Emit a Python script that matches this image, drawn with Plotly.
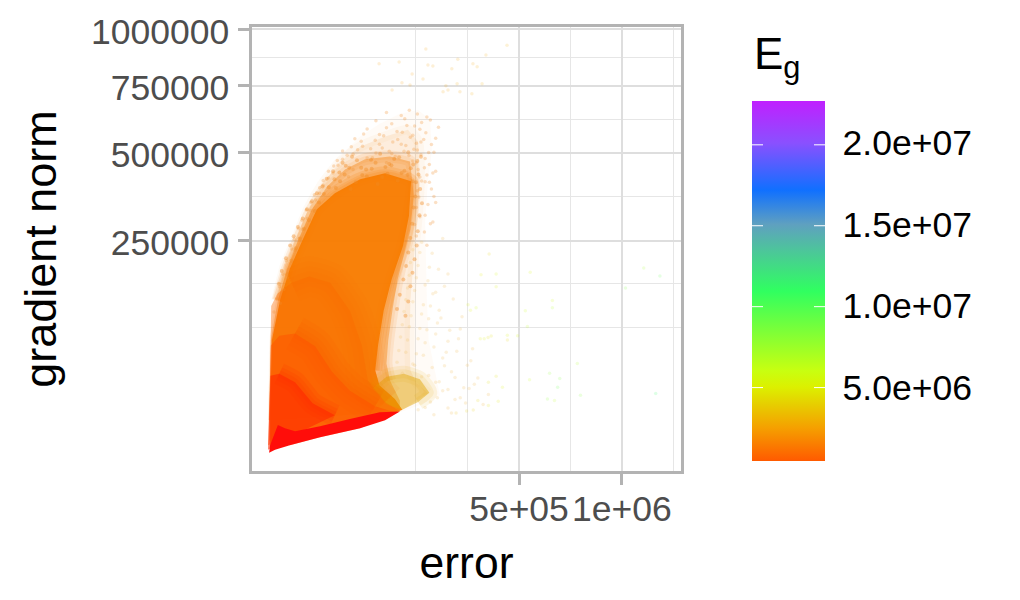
import numpy as np
import plotly.graph_objects as go

x_major = [500000, 1000000]
x_major_labels = ["5e+05", "1e+06"]
y_major = [250000, 500000, 750000, 1000000]
y_major_labels = ["250000", "500000", "750000", "1000000"]
x_minor_sqrt = [414, 560, 853.5, 1146.5]
y_minor_sqrt = [294, 397.6, 603.5, 786.5, 933]
eg_ticks = [5e6, 1e7, 1.5e7, 2e7]
eg_labels = ["5.0e+06", "1.0e+07", "1.5e+07", "2.0e+07"]

# Density envelopes of the point cloud (sqrt error, sqrt gradient norm)
fringe_x = [-7,-4,10,36,61,92,127,164,212,255,311,368,420,454,459,448,440,442,445,450,470,482,425,368]
fringe_y = [75,264,346,433,499,565,616,664,711,746,776,800,809,786,711,640,546,452,358,264,181,134,111,94]
mid_x = [-7,-1,16,41,73,107,147,198,255,326,391,420,425,420,412,405,398,396,398,414,448,397,368]
mid_y = [75,275,358,440,504,574,633,687,722,746,762,734,652,569,499,428,358,264,193,165,139,111,96]
core_x = [-4,1,21,47,78,118,161,212,269,340,397,408,398,380,362,348,335,330,340,368,368]
core_y = [75,264,358,433,499,574,628,668,692,699,687,605,527,471,409,341,264,209,169,122,96]
solid_x = [-1,4,27,55,90,132,183,255,326,400,394,377,345,322,306,298,310,354,375,300,141,55,-1]
solid_y = [99,264,358,433,499,574,612,645,659,640,558,487,409,334,252,193,158,125,100,75,40,20,5]
yellow_x = [290,330,380,425,452,420,375,330]
yellow_y = [150,178,185,172,140,118,100,112]
warm_x = [-4,2,20,60,110,170,226,260,277,326,368,255,141,55]
warm_y = [28,345,375,400,415,400,334,252,169,118,96,56,35,16]
hot_x = [-7,1,25,70,127,175,226,297,354,226,84]
hot_y = [16,252,275,280,250,190,145,108,94,75,49]
hotter_x = [-7,0,25,70,120,183,84]
hotter_y = [5,180,185,165,115,87,47]
red_x = [-4,13,55,141,255,326,368,311,226,141,70,41,21,-1]
red_y = [-2,5,16,35,56,75,96,94,78,61,49,56,64,16]

# Denser speckle along the soft upper edge of the solid cloud
inner_x = [205,232,258,286,312,338,366,392,418,178,214,246,272,299,327,352,381,406,428,160,196,224,261,288,318,344,373,399,421,
           148,182,211,243,274,305,333,362,390,414,132,166,198,228,404,426,118,152,186,412,431,104,138,407,424,92,126,403,419,
           78,110,398,416,66,95,392,410,56,84,386,404,44,72,378,398,32,60,368,392,24,48,360,384]
inner_y = [684,698,672,691,705,681,697,709,688,664,677,690,668,684,674,693,665,680,698,646,661,672,655,670,650,678,660,671,656,
           628,645,656,638,652,634,658,642,655,638,612,626,640,622,640,622,593,610,624,604,588,574,590,578,560,552,570,540,522,
           532,548,506,488,510,528,472,456,488,505,440,424,458,482,408,392,428,452,372,356,398,420,338,322]
# Faint individually visible points around the top and left of the cloud
fuzz_top_x = [330,372,395,418,445,300,345,382,410,430,455,478,275,310,330,360,388,405,425,442,470,240,265,298,322,348,375,398,415,436,458,
              230,258,285,310,338,362,385,408,428,450,205,235,262,290,318,345,372,394,418,440,465,190,218,248,275,300,330,355,380,405,428,452,
              180,205,235,415,438,462,165,192,222,420,445,150,178,425,452,470,140,165,430,458,125,150,418,440,465,115,140,422,448,
              102,128,415,440,470,90,115,425,455,80,105,410,438,462,68,92,415,445,60,82,45,70,35,58,26,48,18,38,10,28]
fuzz_top_y = [803,796,808,799,792,783,776,788,771,779,785,768,764,751,767,758,772,749,763,755,742,741,752,737,748,733,756,744,730,739,727,
              722,735,717,728,711,739,725,716,733,708,712,704,723,696,719,706,728,701,714,694,709,689,702,715,695,707,684,699,711,688,703,680,
              676,692,668,684,672,660,664,678,651,668,655,642,660,650,638,664,625,648,641,622,608,631,618,639,604,590,612,603,585,
              572,596,578,560,590,548,571,556,540,528,552,538,520,544,503,526,511,489,480,505,452,477,420,446,391,412,362,384,331,352]
# Pale points right of the cloud
fuzz_right_x = [405,430,460,490,398,425,452,395,420,448,478,390,415,440,470,505,385,410,435,462,495,380,405,430,455,485,520,
                375,400,425,450,480,510,545,370,395,420,445,475,505,540,365,390,415,440,470,500,535,575,360,385,410,435,465,495,530,570,
                375,405,430,460,490,525,560,420,450,480,515,550,590,440,470,505,540,580,620,455,490,525,565,605,440,475,515,555,420,465,505]
fuzz_right_y = [478,496,470,505,448,472,437,418,441,405,432,388,412,395,378,421,360,382,348,374,392,332,355,326,345,317,362,
                301,322,292,315,335,288,320,272,296,268,289,305,262,291,240,265,232,258,279,236,268,244,212,236,205,229,248,204,238,216,
                186,208,178,200,222,176,205,158,181,166,190,152,175,142,165,148,128,160,136,118,145,124,150,112,105,128,92,116,100,88,104,82]

# Individually visible far points, coloured through the Eg scale
speck_x = [442,366,309,673,613,576,588,533,448,462,516,403,434,602,531,499,397,374,346,505,539,573,491,
           1108,1062,1010,1096,882,873,823,817,794,808,788,737,739,802,802,725,731,674,703,619,
           642,599,622,642,569,585,562,597,628,608,674,642,620,660,648,620,590,577,558,528]
speck_y = [953,922,918,962,939,918,911,929,915,913,906,894,882,871,871,866,868,873,856,856,852,847,852,
           416,435,388,138,134,209,174,153,186,122,125,171,425,341,358,334,297,276,275,271,
           421,419,468,391,335,341,348,268,274,268,265,179,165,153,120,110,122,99,97,92]
speck_eg = [2.4,2.6,2.3,2.9,2.8,2.5,2.7,2.6,2.4,2.5,2.6,2.3,2.5,2.9,2.7,2.6,2.4,2.3,2.3,2.5,2.6,2.8,2.6,
            9.5,7.2,8.6,11,8.2,6.8,8.4,9.2,7.9,6.5,8.0,6.1,5.4,6.9,5.6,5.9,6.4,5.2,5.5,4.6,
            5.4,4.9,4.2,5.2,5.0,5.8,5.2,4.8,4.5,5.2,4.2,4.4,4.6,5.1,4.7,4.4,4.1,3.8,3.9,3.4]

# Eg colour scale
eg_min, eg_max = 4.6e5, 2.258e7
scale_eg = [4.6e5, 2.5e6, 5e6, 6e6, 1.09e7, 1.5e7, 1.71e7, 2e7, 2.258e7]
scale_colors = ["#ff5a00", "#f5a000", "#dcf000", "#c8ff10", "#30ff60", "#5fa0c0", "#1070ff", "#8a50ff", "#c020ff"]

W, H = 1020, 600
PL, PR, PT, PB = 252, 681, 24.5, 471
fig = go.Figure()

# (x, y, rgb, fill alpha, halo widths, halo alpha, feathered vertex range)
layers = [
    (fringe_x, fringe_y, "246,170,90", 0.05, [], 0, (2, 22)),
    (mid_x, mid_y, "243,150,50", 0.13, [10], 0.05, (2, 21)),
    (core_x, core_y, "246,125,5", 0.40, [12, 6], 0.10, (2, 19)),
    (solid_x, solid_y, "247,124,0", 0.92, [14, 8, 4], 0.16, (2, 16)),
    (yellow_x, yellow_y, "224,165,0", 0.45, [16, 9], 0.10, (0, 6)),
    (warm_x, warm_y, "250,106,0", 0.40, [40, 30, 20, 10], 0.06, (3, 10)),
    (hot_x, hot_y, "254,78,0", 0.45, [36, 26, 16, 8], 0.08, (3, 8)),
    (hotter_x, hotter_y, "255,40,0", 0.60, [22, 14, 7], 0.12, (2, 6)),
    (red_x, red_y, "255,13,10", 1.0, [], 0, (0, 0)),
]
for lx, ly, rgb, alpha, halos, ha, (i0, i1) in layers:
    for w in halos:
        fig.add_trace(go.Scatter(x=lx[i0:i1], y=ly[i0:i1], mode="lines", hoverinfo="skip", showlegend=False,
                                 line=dict(width=w, color=f"rgba({rgb},{ha})", shape="spline", smoothing=0.6)))
    fig.add_trace(go.Scatter(x=lx, y=ly, mode="lines", fill="toself", fillcolor=f"rgba({rgb},{alpha})",
                             line=dict(width=0, shape="linear"), hoverinfo="skip", showlegend=False))

fig.add_trace(go.Scatter(x=inner_x, y=inner_y, mode="markers", showlegend=False, hoverinfo="skip",
                         marker=dict(size=4, color="#ef8a20", opacity=0.4, line=dict(width=0))))
fig.add_trace(go.Scatter(x=fuzz_top_x, y=fuzz_top_y, mode="markers", showlegend=False, hoverinfo="skip",
                         marker=dict(size=3.5, color="#f09030", opacity=0.28, line=dict(width=0))))
fig.add_trace(go.Scatter(x=fuzz_right_x, y=fuzz_right_y, mode="markers", showlegend=False, hoverinfo="skip",
                         marker=dict(size=3.5, color="#f0c060", opacity=0.22, line=dict(width=0))))
fig.add_trace(go.Scatter(
    x=speck_x, y=speck_y, mode="markers", showlegend=False,
    marker=dict(size=3.5, opacity=0.16, color=[e * 1e6 for e in speck_eg], coloraxis="coloraxis", line=dict(width=0)),
))

cs = [[(v - eg_min) / (eg_max - eg_min), c] for v, c in zip(scale_eg, scale_colors)]

PW, PH = PR - PL, PB - PT
anns = []
for v in eg_ticks:
    yp = 461 - (v - eg_min) / (eg_max - eg_min) * 360
    for xp, ax in ((752, 14), (825, -14)):
        anns.append(dict(xref="paper", yref="paper", x=(xp - PL) / PW, y=(PB - yp) / PH,
                         text=" ", showarrow=True, arrowhead=0, arrowwidth=1, arrowcolor="white",
                         ax=ax, ay=0, standoff=0, startstandoff=0))
anns.append(dict(xref="paper", yref="paper", x=(753 - PL) / PW, y=(PB - 84) / PH, xanchor="left", yanchor="bottom",
                 text="E<sub>g</sub>", showarrow=False, xshift=0, borderpad=0,
                 font=dict(family="Liberation Sans", size=44, color="black")))

axis_common = dict(showline=True, mirror=True, linecolor="#b3b3b3", linewidth=2.5,
                   ticks="outside", ticklen=11, tickwidth=2.5, tickcolor="#b3b3b3",
                   gridcolor="#dedede", gridwidth=2, zeroline=False,
                   tickfont=dict(family="Liberation Sans", size=35.5, color="#4d4d4d"))

fig.update_layout(
    width=W, height=H, autosize=False,
    paper_bgcolor="white", plot_bgcolor="white",
    margin=dict(l=PL, r=W - PR, t=PT, b=H - PB, pad=0),
    font=dict(family="Liberation Sans"),
    xaxis=dict(range=[-52.6, 1168], tickmode="array", tickvals=np.sqrt(x_major).tolist(), ticktext=x_major_labels,
               minor=dict(tickmode="array", tickvals=x_minor_sqrt, showgrid=True, gridcolor="#e6e6e6", gridwidth=1.3, ticks=""),
               ticklabelstandoff=-6,
               title=dict(text="error", font=dict(size=44.5, color="black"), standoff=19), **axis_common),
    yaxis=dict(range=[-45, 1005], tickmode="array", tickvals=np.sqrt(y_major).tolist(), ticktext=y_major_labels,
               minor=dict(tickmode="array", tickvals=y_minor_sqrt, showgrid=True, gridcolor="#e6e6e6", gridwidth=1.3, ticks=""),
               ticklabelstandoff=2, ticklabelshift=2,
               title=dict(text="gradient norm", font=dict(size=45, color="black"), standoff=21), **axis_common),
    coloraxis=dict(cmin=eg_min, cmax=eg_max, colorscale=cs,
                   colorbar=dict(x=(752 - PL) / PW, xanchor="left", xpad=0, y=(PB - 461) / PH, yanchor="bottom", ypad=0,
                                 len=360, lenmode="pixels", thickness=73, thicknessmode="pixels",
                                 outlinewidth=0, borderwidth=0, tickmode="array", tickvals=eg_ticks, ticktext=eg_labels,
                                 ticks="outside", ticklen=11, tickcolor="white",
                                 tickfont=dict(family="Liberation Sans", size=35.5, color="black"))),
    annotations=anns,
)

fig.write_html("out.html", post_script="document.body.style.margin='0';", config=dict(displayModeBar=False))
